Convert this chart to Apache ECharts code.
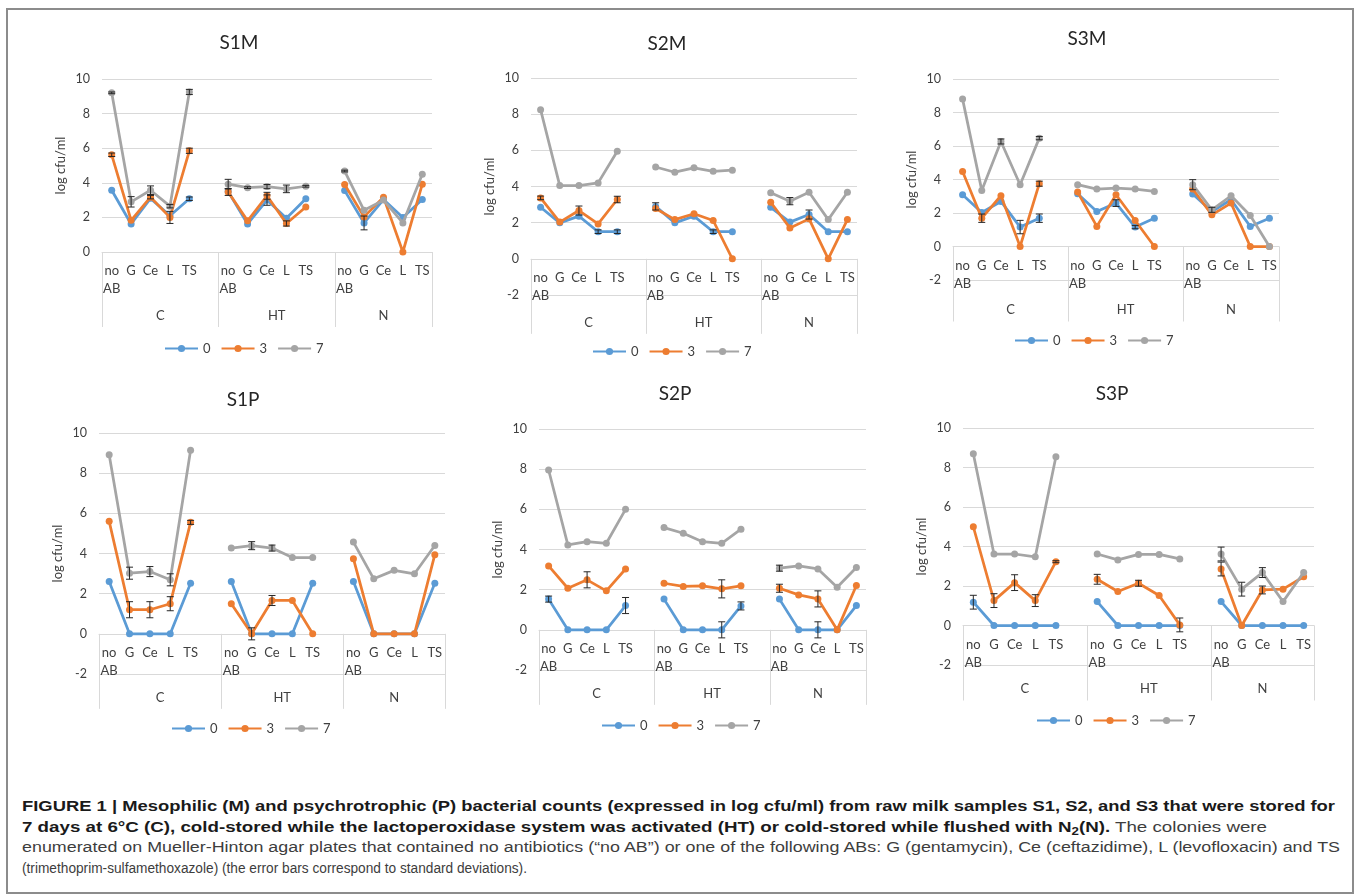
<!DOCTYPE html>
<html>
<head>
<meta charset="utf-8">
<script src="https://cdn.jsdelivr.net/npm/echarts@6/dist/echarts.min.js"></script>
<style>
html,body{margin:0;padding:0;background:#fff;width:1358px;height:895px;overflow:hidden}
#frame{position:absolute;left:6px;top:8px;width:1348px;height:886px;border:2px solid #8c8c8c;box-sizing:border-box}
#chart{position:absolute;left:0;top:0;width:1358px;height:780px}
#caption{position:absolute;left:22px;top:796px;font-family:"Liberation Sans",Arial,Helvetica,sans-serif;font-size:15.5px;line-height:20.5px;color:#3d3d3d}
#caption .ln{white-space:nowrap;display:block;width:max-content;transform-origin:0 50%}
#caption b{color:#1a1a1a}
#caption sub{font-size:11px;vertical-align:-3px;line-height:0}
</style>
</head>
<body>
<div id="frame"></div>
<div id="chart"></div>
<div id="caption">
<span class="ln" data-w="1313"><b>FIGURE 1 | Mesophilic (M) and psychrotrophic (P) bacterial counts (expressed in log cfu/ml) from raw milk samples S1, S2, and S3 that were stored for</b></span>
<span class="ln" data-w="1245"><b>7 days at 6°C (C), cold-stored while the lactoperoxidase system was activated (HT) or cold-stored while flushed with N<sub>2</sub>(N).</b> The colonies were</span>
<span class="ln" data-w="1318">enumerated on Mueller-Hinton agar plates that contained no antibiotics (“no AB”) or one of the following ABs: G (gentamycin), Ce (ceftazidime), L (levofloxacin) and TS</span>
<span class="ln" data-w="505">(trimethoprim-sulfamethoxazole) (the error bars correspond to standard deviations).</span>
</div>
<script>
// ---------- categories ----------
const antibiotics = ['no\nAB', 'G', 'Ce', 'L', 'TS'];
const groups = ['C', 'HT', 'N'];
const seriesNames = ['0', '3', '7'];
const seriesColors = ['#5B9BD5', '#ED7D31', '#A5A5A5'];
const yMax = 10;
const yInterval = 2;

// ---------- values (log cfu/ml), order: C(noAB,G,Ce,L,TS), HT(...), N(...) ----------
const S1M_0 = [3.57,1.62,3.10,2.10,3.08, 3.50,1.62,3.00,1.95,3.08, 3.55,1.68,3.03,2.00,3.03];
const S1M_3 = [5.62,1.83,3.17,2.00,5.85, 3.47,1.80,3.25,1.65,2.60, 3.90,2.03,3.17,0.00,3.92];
const S1M_7 = [9.20,2.90,3.57,2.65,9.25, 3.92,3.72,3.78,3.65,3.80, 4.68,2.41,3.00,1.68,4.50];
const S1M_e0 = [0,0,0,0,0.10, 0,0,0.30,0,0, 0,0.40,0,0,0];
const S1M_e3 = [0.10,0,0.10,0.35,0.15, 0.20,0,0.20,0.15,0, 0,0,0,0,0];
const S1M_e7 = [0.05,0.30,0.25,0.10,0.15, 0.28,0.05,0.12,0.22,0.05, 0.05,0,0,0,0];

const S2M_0 = [2.85,1.99,2.36,1.50,1.50, 2.90,1.99,2.36,1.50,1.50, 2.85,2.03,2.45,1.50,1.50];
const S2M_3 = [3.37,2.03,2.67,1.93,3.28, 2.78,2.17,2.49,2.12,0.00, 3.13,1.71,2.21,0.00,2.17];
const S2M_7 = [8.25,4.05,4.05,4.20,5.95, 5.08,4.79,5.03,4.84,4.90, 3.65,3.19,3.68,2.17,3.68];
const S2M_e0 = [0,0,0,0.10,0.10, 0.20,0,0,0.10,0, 0,0,0.25,0,0];
const S2M_e3 = [0.10,0,0.25,0,0.18, 0,0,0,0,0, 0,0,0,0,0];
const S2M_e7 = [0,0,0,0,0, 0,0,0,0,0, 0,0.20,0,0,0];

const S3M_0 = [3.09,2.03,2.69,1.16,1.69, 3.15,2.09,2.59,1.16,1.69, 3.13,2.09,2.79,1.20,1.69];
const S3M_3 = [4.48,1.69,3.03,0.00,3.75, 3.25,1.20,3.09,1.55,0.00, 3.43,1.89,2.59,0.00,0.00];
const S3M_7 = [8.80,3.35,6.27,3.69,6.47, 3.69,3.43,3.49,3.43,3.29, 3.69,2.19,3.03,1.85,0.00];
const S3M_e0 = [0,0,0,0.40,0.25, 0,0,0.20,0.10,0, 0,0,0,0,0];
const S3M_e3 = [0,0.25,0,0,0.15, 0,0,0,0,0, 0,0,0,0,0];
const S3M_e7 = [0,0,0.15,0,0.10, 0,0,0,0,0, 0.30,0.15,0,0,0];

const S1P_0 = [2.61,0,0,0,2.52, 2.61,0,0,0,2.52, 2.61,0,0,0,2.52];
const S1P_3 = [5.60,1.20,1.20,1.50,5.55, 1.50,0.00,1.66,1.66,0.00, 3.74,0,0,0,3.94];
const S1P_7 = [8.92,3.02,3.10,2.69,9.14, 4.27,4.39,4.27,3.80,3.80, 4.57,2.74,3.16,2.99,4.40];
const S1P_e0 = [0,0,0,0,0, 0,0,0,0,0, 0,0,0,0,0];
const S1P_e3 = [0,0.40,0.40,0.35,0.10, 0,0.30,0.25,0,0, 0,0,0,0,0];
const S1P_e7 = [0,0.30,0.25,0.30,0, 0,0.20,0.15,0,0, 0,0,0,0,0];

const S2P_0 = [1.53,0,0,0,1.21, 1.53,0,0,0,1.19, 1.53,0,0,0,1.21];
const S2P_3 = [3.18,2.07,2.49,1.94,3.03, 2.32,2.16,2.19,2.04,2.19, 2.07,1.74,1.54,0.00,2.21];
const S2P_7 = [7.96,4.23,4.39,4.31,6.00, 5.09,4.81,4.39,4.31,5.01, 3.07,3.18,3.03,2.12,3.10];
const S2P_e0 = [0.15,0,0,0,0.40, 0,0,0,0.40,0.20, 0,0,0.40,0,0];
const S2P_e3 = [0,0,0.40,0,0, 0,0,0,0.45,0, 0.20,0,0.40,0,0];
const S2P_e7 = [0,0,0,0,0, 0,0,0,0,0, 0.15,0,0,0,0];

const S3P_0 = [1.18,0,0,0,0, 1.21,0,0,0,0, 1.21,0,0,0,0];
const S3P_3 = [5.00,1.26,2.17,1.26,3.23, 2.34,1.72,2.14,1.52,0.03, 2.86,0.00,1.80,1.84,2.47];
const S3P_7 = [8.70,3.62,3.62,3.48,8.54, 3.62,3.32,3.60,3.60,3.37, 3.62,1.84,2.68,1.21,2.68];
const S3P_e0 = [0.35,0,0,0,0, 0,0,0,0,0, 0,0,0,0,0];
const S3P_e3 = [0,0.35,0.40,0.30,0.05, 0.25,0,0.15,0,0.35, 0.35,0,0.20,0,0];
const S3P_e7 = [0,0,0,0,0, 0,0,0,0,0, 0.35,0.35,0.25,0,0];

// ---------- layout ----------
const panels = [
  {title:'S1M', d:[S1M_0,S1M_3,S1M_7], e:[S1M_e0,S1M_e3,S1M_e7], yMin:0,  grid:{left:102,top:79,width:330,height:173}, tp:[239,45],  lp:[240,350]},
  {title:'S2M', d:[S2M_0,S2M_3,S2M_7], e:[S2M_e0,S2M_e3,S2M_e7], yMin:-2, grid:{left:531,top:78,width:326,height:217}, tp:[667,46],  lp:[668,353]},
  {title:'S3M', d:[S3M_0,S3M_3,S3M_7], e:[S3M_e0,S3M_e3,S3M_e7], yMin:-2, grid:{left:953,top:79,width:326,height:201}, tp:[1087,41], lp:[1090,342]},
  {title:'S1P', d:[S1P_0,S1P_3,S1P_7], e:[S1P_e0,S1P_e3,S1P_e7], yMin:-2, grid:{left:99,top:433,width:346,height:241}, tp:[243,402], lp:[247,730]},
  {title:'S2P', d:[S2P_0,S2P_3,S2P_7], e:[S2P_e0,S2P_e3,S2P_e7], yMin:-2, grid:{left:539,top:429,width:327,height:241}, tp:[675,396], lp:[677,727]},
  {title:'S3P', d:[S3P_0,S3P_3,S3P_7], e:[S3P_e0,S3P_e3,S3P_e7], yMin:-2, grid:{left:963,top:428,width:351,height:237}, tp:[1112,396], lp:[1112,722]}
];

// category slots: a spacer slot follows C and HT (as in the original multi-level axis)
const SLOTS = [6, 6, 5];
const categories = [];
const slotIndex = [];
groups.forEach((g, gi) => {
  antibiotics.forEach(a => { slotIndex.push(categories.length); categories.push(a); });
  for (let k = antibiotics.length; k < SLOTS[gi]; k++) categories.push('');
});
function pad(vals) {
  const out = categories.map(() => '-');
  vals.forEach((v, i) => { out[slotIndex[i]] = v; });
  return out;
}
// group-level axis at half-slot resolution: separators at group edges, labels at group centres
const groupAxisData = new Array(2 * categories.length + 1).fill('');
const sepIdx = [0];
const grpLabelIdx = [];
(function () {
  let s = 0;
  groups.forEach((g, gi) => {
    const c = 2 * s + SLOTS[gi];
    groupAxisData[c] = g; grpLabelIdx.push(c);
    s += SLOTS[gi]; sepIdx.push(2 * s);
  });
})();

const FONT = 'Lato, "Open Sans", sans-serif';
const TXT = '#404040';
const GRIDC = '#d9d9d9';

function renderErr(params, api) {
  const x = api.value(0), y = api.value(1), e = api.value(2);
  const hi = api.coord([x, y + e]);
  const lo = api.coord([x, y - e]);
  const w = 3.5;
  const st = () => ({stroke: '#262626', lineWidth: 1});
  return {type: 'group', children: [
    {type: 'line', shape: {x1: hi[0], y1: hi[1], x2: lo[0], y2: lo[1]}, style: st()},
    {type: 'line', shape: {x1: hi[0] - w, y1: hi[1], x2: hi[0] + w, y2: hi[1]}, style: st()},
    {type: 'line', shape: {x1: lo[0] - w, y1: lo[1], x2: lo[0] + w, y2: lo[1]}, style: st()}
  ]};
}

const option = {
  animation: false,
  textStyle: {fontFamily: FONT},
  title: [], legend: [], grid: [], xAxis: [], yAxis: [], series: []
};

panels.forEach((p, i) => {
  option.title.push({
    text: p.title, left: p.tp[0], top: p.tp[1] - 12, textAlign: 'center', padding: 0,
    textStyle: {fontFamily: FONT, fontSize: 19, fontWeight: 'normal', color: '#262626'}
  });
  option.legend.push({
    data: seriesNames, left: p.lp[0] - 76, top: p.lp[1] - 8, padding: 0,
    itemWidth: 33, itemHeight: 9, itemGap: 10, selectedMode: false,
    textStyle: {fontFamily: FONT, fontSize: 13, color: TXT}
  });
  option.grid.push(Object.assign({containLabel: false}, p.grid));
  // both category axes sit on the value-0 line: shift up from the grid bottom by the y-scale's share below 0
  const zeroOffset = -p.grid.height * (0 - p.yMin) / (yMax - p.yMin);
  option.xAxis.push({
    gridIndex: i, type: 'category', data: categories, boundaryGap: true, position: 'bottom',
    offset: zeroOffset,
    axisLine: {show: true, onZero: false, lineStyle: {color: GRIDC, width: 1}},
    axisTick: {show: false},
    axisLabel: {interval: 0, margin: 10, fontSize: 13, lineHeight: 18, color: TXT, fontFamily: FONT},
    splitLine: {show: false}
  });
  option.xAxis.push({
    gridIndex: i, type: 'category', data: groupAxisData, boundaryGap: false, position: 'bottom',
    offset: zeroOffset,
    axisLine: {show: false, onZero: false},
    axisTick: {show: true, length: 75, interval: (idx) => sepIdx.indexOf(idx) >= 0, lineStyle: {color: GRIDC, width: 1}},
    axisLabel: {interval: (idx) => grpLabelIdx.indexOf(idx) >= 0, margin: 57, fontSize: 13, color: TXT, fontFamily: FONT},
    splitLine: {show: false}
  });
  option.yAxis.push({
    gridIndex: i, type: 'value', min: p.yMin, max: yMax, interval: yInterval,
    axisLine: {show: false}, axisTick: {show: false},
    axisLabel: {margin: 12, fontSize: 12.5, color: TXT, fontFamily: FONT},
    splitLine: {lineStyle: {color: GRIDC, width: 1}},
    name: 'log cfu/ml', nameLocation: 'middle', nameGap: 35,
    nameTextStyle: {fontSize: 13, color: TXT, fontFamily: FONT}
  });
  seriesNames.forEach((sn, k) => {
    option.series.push({
      type: 'line', name: sn, xAxisIndex: 2 * i, yAxisIndex: i,
      data: pad(p.d[k]), connectNulls: false,
      symbol: 'circle', symbolSize: 7, showSymbol: true, showAllSymbol: true,
      color: seriesColors[k],
      lineStyle: {width: 2.75, color: seriesColors[k]},
      itemStyle: {color: seriesColors[k]},
      z: 2 + k * 0.1
    });
  });
  seriesNames.forEach((sn, k) => {
    const ed = [];
    p.e[k].forEach((ev, j) => { if (ev > 0) ed.push([slotIndex[j], p.d[k][j], ev]); });
    option.series.push({
      type: 'custom', name: 'err' + sn, xAxisIndex: 2 * i, yAxisIndex: i,
      renderItem: renderErr, data: ed, encode: {x: 0, y: 1}, z: 5, silent: true
    });
  });
});

const chart = echarts.init(document.getElementById('chart'), null, {renderer: 'canvas'});
chart.setOption(option);

// fit caption lines to the widths they occupy in the original figure (horizontal scale, natural spacing)
document.querySelectorAll('#caption .ln').forEach(el => {
  const target = +el.dataset.w;
  const w = el.getBoundingClientRect().width;
  el.style.transform = 'scaleX(' + (target / w).toFixed(4) + ')';
});
</script>
</body>
</html>
